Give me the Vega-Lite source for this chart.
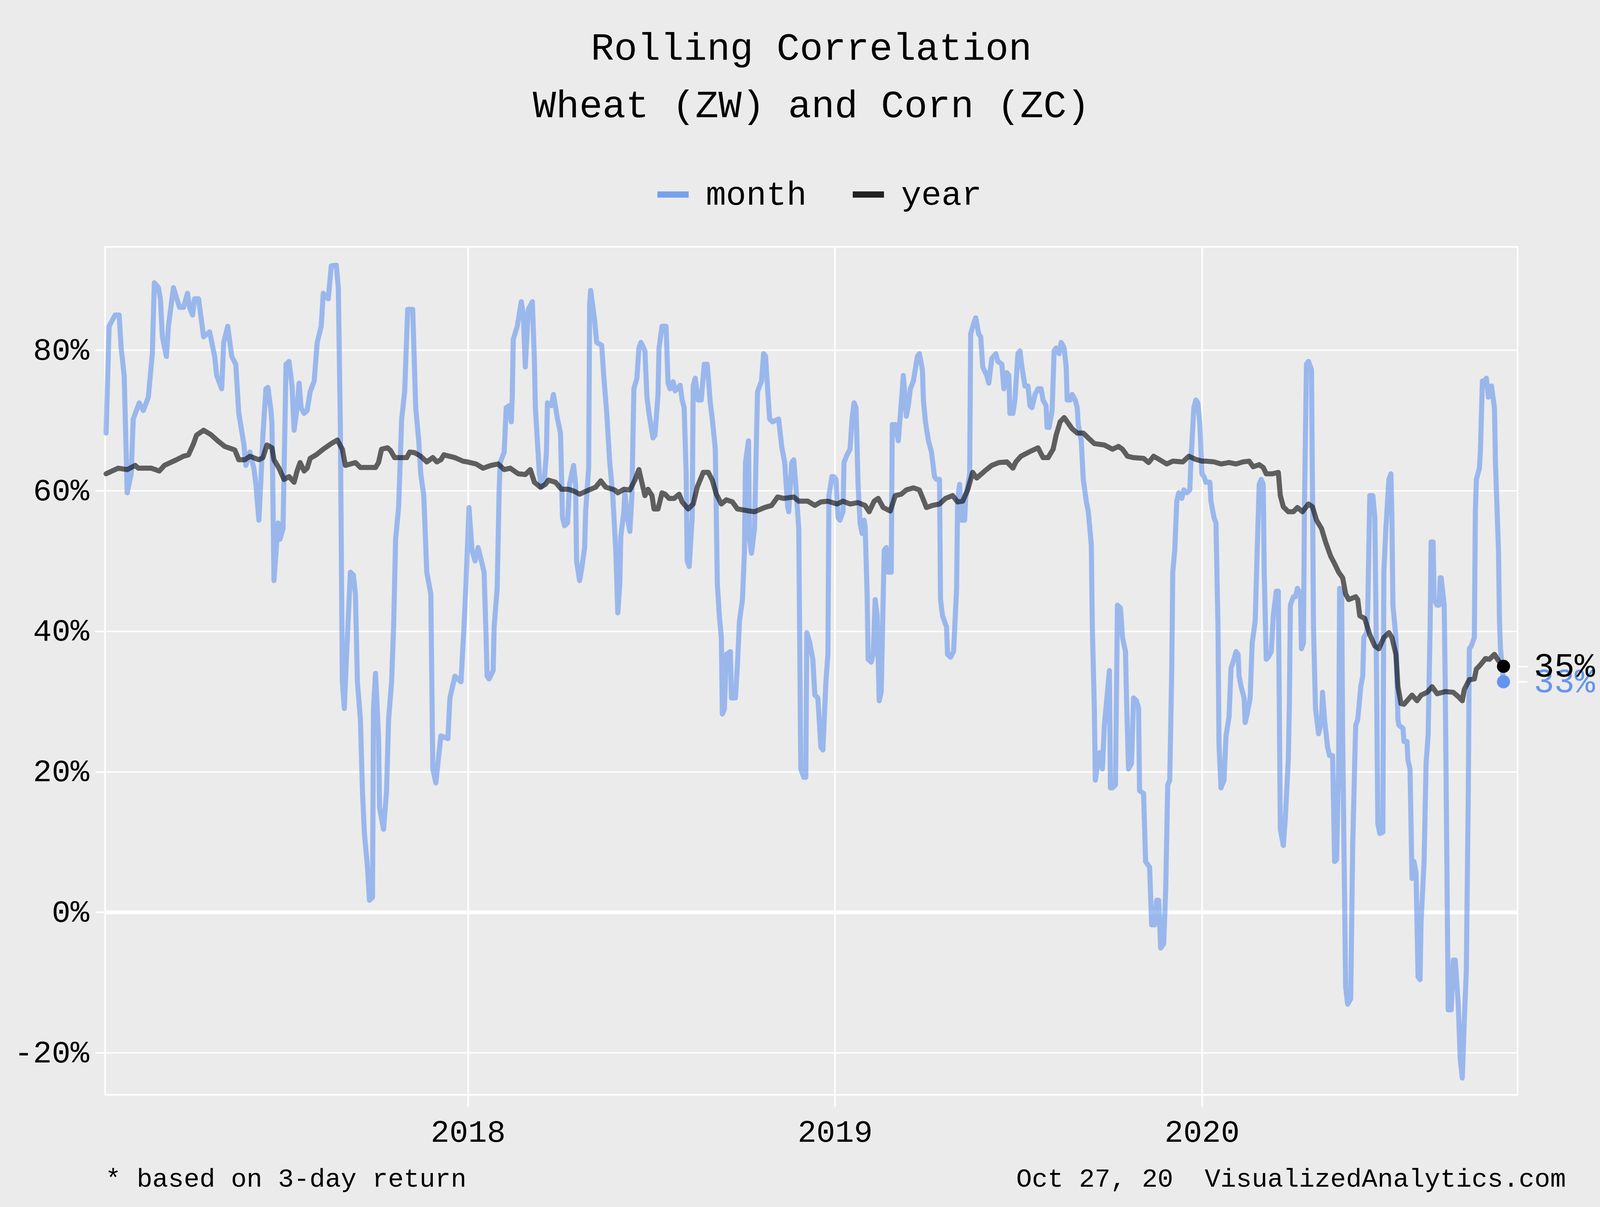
{
  "$schema": "https://vega.github.io/schema/vega-lite/v6.json",
  "width": 4096,
  "height": 3090,
  "autosize": {"type": "fit", "contains": "padding"},
  "padding": {"left": 35, "right": 13, "top": 74, "bottom": 40},
  "background": "#EBEBEB",
  "title": {
    "text": ["Rolling Correlation", "Wheat (ZW) and Corn (ZC)"],
    "font": "Liberation Mono",
    "fontSize": 99,
    "fontWeight": "normal",
    "color": "black",
    "anchor": "middle",
    "frame": "group",
    "baseline": "bottom",
    "lineHeight": 147,
    "offset": 212
  },
  "datasets": {
    "corr": [
      {"date": "2017-01-06", "series": "month", "value": 68.2},
      {"date": "2017-01-09", "series": "month", "value": 83.4},
      {"date": "2017-01-15", "series": "month", "value": 85.0},
      {"date": "2017-01-19", "series": "month", "value": 85.0},
      {"date": "2017-01-21", "series": "month", "value": 80.3},
      {"date": "2017-01-24", "series": "month", "value": 76.4},
      {"date": "2017-01-27", "series": "month", "value": 59.7},
      {"date": "2017-01-31", "series": "month", "value": 62.4},
      {"date": "2017-02-02", "series": "month", "value": 70.2},
      {"date": "2017-02-08", "series": "month", "value": 72.5},
      {"date": "2017-02-12", "series": "month", "value": 71.4},
      {"date": "2017-02-17", "series": "month", "value": 73.3},
      {"date": "2017-02-21", "series": "month", "value": 79.5},
      {"date": "2017-02-23", "series": "month", "value": 89.6},
      {"date": "2017-02-27", "series": "month", "value": 88.9},
      {"date": "2017-03-01", "series": "month", "value": 87.3},
      {"date": "2017-03-03", "series": "month", "value": 81.9},
      {"date": "2017-03-07", "series": "month", "value": 79.1},
      {"date": "2017-03-09", "series": "month", "value": 83.4},
      {"date": "2017-03-14", "series": "month", "value": 88.9},
      {"date": "2017-03-20", "series": "month", "value": 86.1},
      {"date": "2017-03-24", "series": "month", "value": 86.1},
      {"date": "2017-03-28", "series": "month", "value": 88.1},
      {"date": "2017-03-30", "series": "month", "value": 86.1},
      {"date": "2017-04-02", "series": "month", "value": 85.0},
      {"date": "2017-04-04", "series": "month", "value": 87.3},
      {"date": "2017-04-08", "series": "month", "value": 87.3},
      {"date": "2017-04-13", "series": "month", "value": 81.9},
      {"date": "2017-04-19", "series": "month", "value": 82.6},
      {"date": "2017-04-24", "series": "month", "value": 79.1},
      {"date": "2017-04-26", "series": "month", "value": 76.4},
      {"date": "2017-05-01", "series": "month", "value": 74.5},
      {"date": "2017-05-03", "series": "month", "value": 81.1},
      {"date": "2017-05-07", "series": "month", "value": 83.4},
      {"date": "2017-05-11", "series": "month", "value": 79.1},
      {"date": "2017-05-15", "series": "month", "value": 78.0},
      {"date": "2017-05-18", "series": "month", "value": 71.0},
      {"date": "2017-05-23", "series": "month", "value": 66.7},
      {"date": "2017-05-25", "series": "month", "value": 63.6},
      {"date": "2017-05-29", "series": "month", "value": 65.5},
      {"date": "2017-06-02", "series": "month", "value": 63.2},
      {"date": "2017-06-04", "series": "month", "value": 60.9},
      {"date": "2017-06-07", "series": "month", "value": 55.8},
      {"date": "2017-06-09", "series": "month", "value": 61.6},
      {"date": "2017-06-11", "series": "month", "value": 67.9},
      {"date": "2017-06-14", "series": "month", "value": 74.5},
      {"date": "2017-06-16", "series": "month", "value": 74.7},
      {"date": "2017-06-19", "series": "month", "value": 71.4},
      {"date": "2017-06-20", "series": "month", "value": 69.4},
      {"date": "2017-06-22", "series": "month", "value": 47.2},
      {"date": "2017-06-24", "series": "month", "value": 51.1},
      {"date": "2017-06-26", "series": "month", "value": 55.4},
      {"date": "2017-06-28", "series": "month", "value": 53.1},
      {"date": "2017-07-01", "series": "month", "value": 54.6},
      {"date": "2017-07-04", "series": "month", "value": 78.0},
      {"date": "2017-07-07", "series": "month", "value": 78.4},
      {"date": "2017-07-10", "series": "month", "value": 74.9},
      {"date": "2017-07-12", "series": "month", "value": 68.6},
      {"date": "2017-07-15", "series": "month", "value": 71.8},
      {"date": "2017-07-17", "series": "month", "value": 75.3},
      {"date": "2017-07-19", "series": "month", "value": 71.8},
      {"date": "2017-07-22", "series": "month", "value": 71.0},
      {"date": "2017-07-25", "series": "month", "value": 71.4},
      {"date": "2017-07-28", "series": "month", "value": 74.1},
      {"date": "2017-08-01", "series": "month", "value": 75.6},
      {"date": "2017-08-04", "series": "month", "value": 81.1},
      {"date": "2017-08-08", "series": "month", "value": 83.4},
      {"date": "2017-08-10", "series": "month", "value": 88.1},
      {"date": "2017-08-15", "series": "month", "value": 87.3},
      {"date": "2017-08-18", "series": "month", "value": 92.0},
      {"date": "2017-08-23", "series": "month", "value": 92.1},
      {"date": "2017-08-25", "series": "month", "value": 88.9},
      {"date": "2017-08-27", "series": "month", "value": 69.4},
      {"date": "2017-08-29", "series": "month", "value": 32.8},
      {"date": "2017-08-31", "series": "month", "value": 29.0},
      {"date": "2017-09-02", "series": "month", "value": 36.0},
      {"date": "2017-09-06", "series": "month", "value": 48.4},
      {"date": "2017-09-09", "series": "month", "value": 48.0},
      {"date": "2017-09-11", "series": "month", "value": 45.3},
      {"date": "2017-09-13", "series": "month", "value": 32.8},
      {"date": "2017-09-16", "series": "month", "value": 27.4},
      {"date": "2017-09-18", "series": "month", "value": 17.3},
      {"date": "2017-09-20", "series": "month", "value": 11.1},
      {"date": "2017-09-23", "series": "month", "value": 6.4},
      {"date": "2017-09-25", "series": "month", "value": 1.7},
      {"date": "2017-09-28", "series": "month", "value": 2.1},
      {"date": "2017-09-29", "series": "month", "value": 29.0},
      {"date": "2017-10-01", "series": "month", "value": 34.0},
      {"date": "2017-10-04", "series": "month", "value": 25.1},
      {"date": "2017-10-05", "series": "month", "value": 14.9},
      {"date": "2017-10-09", "series": "month", "value": 11.8},
      {"date": "2017-10-12", "series": "month", "value": 17.3},
      {"date": "2017-10-14", "series": "month", "value": 27.4},
      {"date": "2017-10-17", "series": "month", "value": 32.8},
      {"date": "2017-10-19", "series": "month", "value": 40.6},
      {"date": "2017-10-21", "series": "month", "value": 53.1},
      {"date": "2017-10-24", "series": "month", "value": 57.7},
      {"date": "2017-10-27", "series": "month", "value": 70.2},
      {"date": "2017-10-30", "series": "month", "value": 74.1},
      {"date": "2017-11-02", "series": "month", "value": 85.8},
      {"date": "2017-11-07", "series": "month", "value": 85.8},
      {"date": "2017-11-10", "series": "month", "value": 71.8},
      {"date": "2017-11-13", "series": "month", "value": 67.1},
      {"date": "2017-11-15", "series": "month", "value": 62.4},
      {"date": "2017-11-18", "series": "month", "value": 59.3},
      {"date": "2017-11-21", "series": "month", "value": 48.4},
      {"date": "2017-11-25", "series": "month", "value": 45.3},
      {"date": "2017-11-27", "series": "month", "value": 20.4},
      {"date": "2017-11-30", "series": "month", "value": 18.4},
      {"date": "2017-12-05", "series": "month", "value": 25.1},
      {"date": "2017-12-12", "series": "month", "value": 24.7},
      {"date": "2017-12-14", "series": "month", "value": 30.5},
      {"date": "2017-12-19", "series": "month", "value": 33.6},
      {"date": "2017-12-25", "series": "month", "value": 32.8},
      {"date": "2017-12-28", "series": "month", "value": 40.6},
      {"date": "2017-12-30", "series": "month", "value": 46.8},
      {"date": "2018-01-02", "series": "month", "value": 57.6},
      {"date": "2018-01-05", "series": "month", "value": 51.5},
      {"date": "2018-01-08", "series": "month", "value": 50.0},
      {"date": "2018-01-11", "series": "month", "value": 51.9},
      {"date": "2018-01-15", "series": "month", "value": 49.6},
      {"date": "2018-01-17", "series": "month", "value": 48.4},
      {"date": "2018-01-19", "series": "month", "value": 39.1},
      {"date": "2018-01-20", "series": "month", "value": 33.6},
      {"date": "2018-01-22", "series": "month", "value": 33.2},
      {"date": "2018-01-26", "series": "month", "value": 34.4},
      {"date": "2018-01-27", "series": "month", "value": 40.6},
      {"date": "2018-01-30", "series": "month", "value": 46.1},
      {"date": "2018-02-01", "series": "month", "value": 60.1},
      {"date": "2018-02-02", "series": "month", "value": 64.0},
      {"date": "2018-02-06", "series": "month", "value": 65.5},
      {"date": "2018-02-08", "series": "month", "value": 71.8},
      {"date": "2018-02-11", "series": "month", "value": 72.1},
      {"date": "2018-02-13", "series": "month", "value": 69.8},
      {"date": "2018-02-14", "series": "month", "value": 73.3},
      {"date": "2018-02-15", "series": "month", "value": 81.5},
      {"date": "2018-02-19", "series": "month", "value": 83.4},
      {"date": "2018-02-23", "series": "month", "value": 86.9},
      {"date": "2018-02-25", "series": "month", "value": 85.0},
      {"date": "2018-02-27", "series": "month", "value": 77.6},
      {"date": "2018-03-02", "series": "month", "value": 85.8},
      {"date": "2018-03-06", "series": "month", "value": 86.9},
      {"date": "2018-03-08", "series": "month", "value": 78.8},
      {"date": "2018-03-09", "series": "month", "value": 71.8},
      {"date": "2018-03-13", "series": "month", "value": 62.4},
      {"date": "2018-03-15", "series": "month", "value": 60.5},
      {"date": "2018-03-18", "series": "month", "value": 61.6},
      {"date": "2018-03-20", "series": "month", "value": 65.5},
      {"date": "2018-03-21", "series": "month", "value": 72.5},
      {"date": "2018-03-25", "series": "month", "value": 72.1},
      {"date": "2018-03-27", "series": "month", "value": 73.7},
      {"date": "2018-03-31", "series": "month", "value": 70.2},
      {"date": "2018-04-03", "series": "month", "value": 68.2},
      {"date": "2018-04-05", "series": "month", "value": 56.2},
      {"date": "2018-04-07", "series": "month", "value": 55.0},
      {"date": "2018-04-10", "series": "month", "value": 55.4},
      {"date": "2018-04-12", "series": "month", "value": 60.9},
      {"date": "2018-04-16", "series": "month", "value": 63.6},
      {"date": "2018-04-18", "series": "month", "value": 60.9},
      {"date": "2018-04-19", "series": "month", "value": 50.0},
      {"date": "2018-04-22", "series": "month", "value": 47.2},
      {"date": "2018-04-24", "series": "month", "value": 48.8},
      {"date": "2018-04-27", "series": "month", "value": 51.9},
      {"date": "2018-04-28", "series": "month", "value": 57.0},
      {"date": "2018-05-01", "series": "month", "value": 63.2},
      {"date": "2018-05-02", "series": "month", "value": 86.5},
      {"date": "2018-05-03", "series": "month", "value": 88.5},
      {"date": "2018-05-07", "series": "month", "value": 84.2},
      {"date": "2018-05-09", "series": "month", "value": 81.1},
      {"date": "2018-05-14", "series": "month", "value": 80.7},
      {"date": "2018-05-16", "series": "month", "value": 76.4},
      {"date": "2018-05-19", "series": "month", "value": 71.0},
      {"date": "2018-05-22", "series": "month", "value": 64.0},
      {"date": "2018-05-25", "series": "month", "value": 59.3},
      {"date": "2018-05-28", "series": "month", "value": 51.5},
      {"date": "2018-05-30", "series": "month", "value": 42.6},
      {"date": "2018-06-01", "series": "month", "value": 46.8},
      {"date": "2018-06-02", "series": "month", "value": 53.5},
      {"date": "2018-06-05", "series": "month", "value": 57.0},
      {"date": "2018-06-06", "series": "month", "value": 59.7},
      {"date": "2018-06-09", "series": "month", "value": 55.8},
      {"date": "2018-06-11", "series": "month", "value": 54.2},
      {"date": "2018-06-13", "series": "month", "value": 59.3},
      {"date": "2018-06-15", "series": "month", "value": 74.5},
      {"date": "2018-06-18", "series": "month", "value": 76.0},
      {"date": "2018-06-20", "series": "month", "value": 80.3},
      {"date": "2018-06-22", "series": "month", "value": 81.1},
      {"date": "2018-06-26", "series": "month", "value": 79.9},
      {"date": "2018-06-28", "series": "month", "value": 73.3},
      {"date": "2018-06-30", "series": "month", "value": 71.0},
      {"date": "2018-07-04", "series": "month", "value": 67.5},
      {"date": "2018-07-06", "series": "month", "value": 67.9},
      {"date": "2018-07-09", "series": "month", "value": 73.7},
      {"date": "2018-07-10", "series": "month", "value": 80.3},
      {"date": "2018-07-13", "series": "month", "value": 83.4},
      {"date": "2018-07-17", "series": "month", "value": 83.4},
      {"date": "2018-07-19", "series": "month", "value": 75.3},
      {"date": "2018-07-21", "series": "month", "value": 74.5},
      {"date": "2018-07-24", "series": "month", "value": 75.5},
      {"date": "2018-07-26", "series": "month", "value": 74.2},
      {"date": "2018-07-31", "series": "month", "value": 75.0},
      {"date": "2018-08-02", "series": "month", "value": 72.9},
      {"date": "2018-08-04", "series": "month", "value": 71.8},
      {"date": "2018-08-06", "series": "month", "value": 62.4},
      {"date": "2018-08-07", "series": "month", "value": 50.0},
      {"date": "2018-08-09", "series": "month", "value": 49.2},
      {"date": "2018-08-12", "series": "month", "value": 56.2},
      {"date": "2018-08-13", "series": "month", "value": 74.9},
      {"date": "2018-08-15", "series": "month", "value": 76.0},
      {"date": "2018-08-18", "series": "month", "value": 72.9},
      {"date": "2018-08-21", "series": "month", "value": 72.9},
      {"date": "2018-08-24", "series": "month", "value": 78.0},
      {"date": "2018-08-27", "series": "month", "value": 78.0},
      {"date": "2018-08-30", "series": "month", "value": 72.5},
      {"date": "2018-09-01", "series": "month", "value": 70.2},
      {"date": "2018-09-04", "series": "month", "value": 65.9},
      {"date": "2018-09-06", "series": "month", "value": 46.8},
      {"date": "2018-09-08", "series": "month", "value": 42.2},
      {"date": "2018-09-10", "series": "month", "value": 39.1},
      {"date": "2018-09-11", "series": "month", "value": 28.2},
      {"date": "2018-09-13", "series": "month", "value": 28.9},
      {"date": "2018-09-15", "series": "month", "value": 36.7},
      {"date": "2018-09-19", "series": "month", "value": 37.1},
      {"date": "2018-09-20", "series": "month", "value": 30.5},
      {"date": "2018-09-24", "series": "month", "value": 30.5},
      {"date": "2018-09-26", "series": "month", "value": 35.2},
      {"date": "2018-09-28", "series": "month", "value": 41.4},
      {"date": "2018-10-01", "series": "month", "value": 44.5},
      {"date": "2018-10-03", "series": "month", "value": 51.5},
      {"date": "2018-10-04", "series": "month", "value": 64.0},
      {"date": "2018-10-07", "series": "month", "value": 67.1},
      {"date": "2018-10-08", "series": "month", "value": 53.1},
      {"date": "2018-10-10", "series": "month", "value": 51.1},
      {"date": "2018-10-13", "series": "month", "value": 54.6},
      {"date": "2018-10-15", "series": "month", "value": 67.9},
      {"date": "2018-10-16", "series": "month", "value": 74.1},
      {"date": "2018-10-20", "series": "month", "value": 75.6},
      {"date": "2018-10-22", "series": "month", "value": 79.5},
      {"date": "2018-10-24", "series": "month", "value": 79.1},
      {"date": "2018-10-26", "series": "month", "value": 74.5},
      {"date": "2018-10-28", "series": "month", "value": 70.2},
      {"date": "2018-10-31", "series": "month", "value": 69.8},
      {"date": "2018-11-06", "series": "month", "value": 70.2},
      {"date": "2018-11-09", "series": "month", "value": 66.3},
      {"date": "2018-11-12", "series": "month", "value": 64.0},
      {"date": "2018-11-15", "series": "month", "value": 57.7},
      {"date": "2018-11-16", "series": "month", "value": 57.0},
      {"date": "2018-11-19", "series": "month", "value": 64.0},
      {"date": "2018-11-21", "series": "month", "value": 64.4},
      {"date": "2018-11-23", "series": "month", "value": 60.9},
      {"date": "2018-11-26", "series": "month", "value": 54.6},
      {"date": "2018-11-28", "series": "month", "value": 20.4},
      {"date": "2018-12-01", "series": "month", "value": 19.2},
      {"date": "2018-12-03", "series": "month", "value": 19.2},
      {"date": "2018-12-04", "series": "month", "value": 39.8},
      {"date": "2018-12-07", "series": "month", "value": 38.3},
      {"date": "2018-12-10", "series": "month", "value": 36.0},
      {"date": "2018-12-12", "series": "month", "value": 30.9},
      {"date": "2018-12-15", "series": "month", "value": 30.5},
      {"date": "2018-12-18", "series": "month", "value": 23.5},
      {"date": "2018-12-20", "series": "month", "value": 23.1},
      {"date": "2018-12-23", "series": "month", "value": 32.8},
      {"date": "2018-12-25", "series": "month", "value": 36.7},
      {"date": "2018-12-26", "series": "month", "value": 59.3},
      {"date": "2018-12-29", "series": "month", "value": 62.0},
      {"date": "2018-12-31", "series": "month", "value": 62.0},
      {"date": "2019-01-02", "series": "month", "value": 61.6},
      {"date": "2019-01-04", "series": "month", "value": 56.2},
      {"date": "2019-01-06", "series": "month", "value": 55.8},
      {"date": "2019-01-09", "series": "month", "value": 57.0},
      {"date": "2019-01-10", "series": "month", "value": 64.0},
      {"date": "2019-01-13", "series": "month", "value": 65.1},
      {"date": "2019-01-16", "series": "month", "value": 65.9},
      {"date": "2019-01-18", "series": "month", "value": 70.2},
      {"date": "2019-01-20", "series": "month", "value": 72.5},
      {"date": "2019-01-22", "series": "month", "value": 71.8},
      {"date": "2019-01-24", "series": "month", "value": 60.9},
      {"date": "2019-01-26", "series": "month", "value": 55.4},
      {"date": "2019-01-28", "series": "month", "value": 53.9},
      {"date": "2019-01-30", "series": "month", "value": 55.8},
      {"date": "2019-01-31", "series": "month", "value": 55.0},
      {"date": "2019-02-02", "series": "month", "value": 45.3},
      {"date": "2019-02-03", "series": "month", "value": 36.0},
      {"date": "2019-02-06", "series": "month", "value": 35.6},
      {"date": "2019-02-08", "series": "month", "value": 36.7},
      {"date": "2019-02-10", "series": "month", "value": 44.5},
      {"date": "2019-02-12", "series": "month", "value": 42.2},
      {"date": "2019-02-14", "series": "month", "value": 30.1},
      {"date": "2019-02-16", "series": "month", "value": 31.3},
      {"date": "2019-02-19", "series": "month", "value": 51.5},
      {"date": "2019-02-21", "series": "month", "value": 51.9},
      {"date": "2019-02-23", "series": "month", "value": 48.4},
      {"date": "2019-02-26", "series": "month", "value": 48.4},
      {"date": "2019-02-27", "series": "month", "value": 69.4},
      {"date": "2019-03-02", "series": "month", "value": 69.4},
      {"date": "2019-03-05", "series": "month", "value": 67.1},
      {"date": "2019-03-08", "series": "month", "value": 72.5},
      {"date": "2019-03-10", "series": "month", "value": 76.4},
      {"date": "2019-03-13", "series": "month", "value": 70.6},
      {"date": "2019-03-15", "series": "month", "value": 72.1},
      {"date": "2019-03-17", "series": "month", "value": 74.5},
      {"date": "2019-03-20", "series": "month", "value": 75.6},
      {"date": "2019-03-24", "series": "month", "value": 79.1},
      {"date": "2019-03-26", "series": "month", "value": 79.5},
      {"date": "2019-03-29", "series": "month", "value": 77.2},
      {"date": "2019-03-30", "series": "month", "value": 72.9},
      {"date": "2019-04-01", "series": "month", "value": 69.8},
      {"date": "2019-04-04", "series": "month", "value": 67.1},
      {"date": "2019-04-07", "series": "month", "value": 65.5},
      {"date": "2019-04-10", "series": "month", "value": 62.0},
      {"date": "2019-04-12", "series": "month", "value": 61.6},
      {"date": "2019-04-15", "series": "month", "value": 61.6},
      {"date": "2019-04-16", "series": "month", "value": 44.5},
      {"date": "2019-04-18", "series": "month", "value": 42.2},
      {"date": "2019-04-22", "series": "month", "value": 40.6},
      {"date": "2019-04-23", "series": "month", "value": 36.7},
      {"date": "2019-04-26", "series": "month", "value": 36.3},
      {"date": "2019-04-29", "series": "month", "value": 37.1},
      {"date": "2019-05-02", "series": "month", "value": 46.1},
      {"date": "2019-05-03", "series": "month", "value": 58.5},
      {"date": "2019-05-05", "series": "month", "value": 60.9},
      {"date": "2019-05-07", "series": "month", "value": 55.8},
      {"date": "2019-05-10", "series": "month", "value": 55.8},
      {"date": "2019-05-11", "series": "month", "value": 58.9},
      {"date": "2019-05-15", "series": "month", "value": 62.4},
      {"date": "2019-05-16", "series": "month", "value": 82.3},
      {"date": "2019-05-19", "series": "month", "value": 83.8},
      {"date": "2019-05-21", "series": "month", "value": 84.6},
      {"date": "2019-05-24", "series": "month", "value": 82.3},
      {"date": "2019-05-26", "series": "month", "value": 81.9},
      {"date": "2019-05-28", "series": "month", "value": 77.6},
      {"date": "2019-06-01", "series": "month", "value": 76.4},
      {"date": "2019-06-03", "series": "month", "value": 75.3},
      {"date": "2019-06-06", "series": "month", "value": 78.8},
      {"date": "2019-06-10", "series": "month", "value": 79.5},
      {"date": "2019-06-12", "series": "month", "value": 78.4},
      {"date": "2019-06-16", "series": "month", "value": 78.0},
      {"date": "2019-06-18", "series": "month", "value": 74.5},
      {"date": "2019-06-21", "series": "month", "value": 76.8},
      {"date": "2019-06-23", "series": "month", "value": 76.4},
      {"date": "2019-06-24", "series": "month", "value": 71.0},
      {"date": "2019-06-27", "series": "month", "value": 71.0},
      {"date": "2019-06-29", "series": "month", "value": 72.9},
      {"date": "2019-07-02", "series": "month", "value": 79.5},
      {"date": "2019-07-04", "series": "month", "value": 79.9},
      {"date": "2019-07-06", "series": "month", "value": 77.6},
      {"date": "2019-07-09", "series": "month", "value": 74.9},
      {"date": "2019-07-12", "series": "month", "value": 74.9},
      {"date": "2019-07-14", "series": "month", "value": 72.1},
      {"date": "2019-07-16", "series": "month", "value": 71.8},
      {"date": "2019-07-19", "series": "month", "value": 73.7},
      {"date": "2019-07-22", "series": "month", "value": 74.5},
      {"date": "2019-07-25", "series": "month", "value": 74.5},
      {"date": "2019-07-27", "series": "month", "value": 72.9},
      {"date": "2019-07-30", "series": "month", "value": 72.1},
      {"date": "2019-07-31", "series": "month", "value": 69.0},
      {"date": "2019-08-02", "series": "month", "value": 69.0},
      {"date": "2019-08-05", "series": "month", "value": 71.4},
      {"date": "2019-08-06", "series": "month", "value": 75.6},
      {"date": "2019-08-07", "series": "month", "value": 79.9},
      {"date": "2019-08-09", "series": "month", "value": 80.3},
      {"date": "2019-08-12", "series": "month", "value": 79.5},
      {"date": "2019-08-14", "series": "month", "value": 81.1},
      {"date": "2019-08-17", "series": "month", "value": 80.3},
      {"date": "2019-08-19", "series": "month", "value": 77.6},
      {"date": "2019-08-20", "series": "month", "value": 72.9},
      {"date": "2019-08-23", "series": "month", "value": 72.9},
      {"date": "2019-08-25", "series": "month", "value": 73.7},
      {"date": "2019-08-28", "series": "month", "value": 72.9},
      {"date": "2019-08-30", "series": "month", "value": 71.8},
      {"date": "2019-08-31", "series": "month", "value": 69.4},
      {"date": "2019-09-03", "series": "month", "value": 67.1},
      {"date": "2019-09-05", "series": "month", "value": 61.6},
      {"date": "2019-09-08", "series": "month", "value": 58.5},
      {"date": "2019-09-10", "series": "month", "value": 57.0},
      {"date": "2019-09-13", "series": "month", "value": 52.3},
      {"date": "2019-09-14", "series": "month", "value": 40.6},
      {"date": "2019-09-16", "series": "month", "value": 29.0},
      {"date": "2019-09-17", "series": "month", "value": 18.8},
      {"date": "2019-09-19", "series": "month", "value": 20.8},
      {"date": "2019-09-21", "series": "month", "value": 22.7},
      {"date": "2019-09-24", "series": "month", "value": 20.4},
      {"date": "2019-09-26", "series": "month", "value": 26.6},
      {"date": "2019-09-28", "series": "month", "value": 29.7},
      {"date": "2019-10-01", "series": "month", "value": 34.4},
      {"date": "2019-10-02", "series": "month", "value": 17.7},
      {"date": "2019-10-04", "series": "month", "value": 17.7},
      {"date": "2019-10-07", "series": "month", "value": 18.1},
      {"date": "2019-10-09", "series": "month", "value": 43.7},
      {"date": "2019-10-12", "series": "month", "value": 43.3},
      {"date": "2019-10-14", "series": "month", "value": 39.1},
      {"date": "2019-10-17", "series": "month", "value": 37.1},
      {"date": "2019-10-18", "series": "month", "value": 30.5},
      {"date": "2019-10-20", "series": "month", "value": 20.4},
      {"date": "2019-10-23", "series": "month", "value": 21.2},
      {"date": "2019-10-25", "series": "month", "value": 30.5},
      {"date": "2019-10-28", "series": "month", "value": 30.1},
      {"date": "2019-10-30", "series": "month", "value": 29.0},
      {"date": "2019-10-31", "series": "month", "value": 17.3},
      {"date": "2019-11-04", "series": "month", "value": 16.9},
      {"date": "2019-11-06", "series": "month", "value": 7.2},
      {"date": "2019-11-10", "series": "month", "value": 6.4},
      {"date": "2019-11-12", "series": "month", "value": -1.8},
      {"date": "2019-11-15", "series": "month", "value": -1.8},
      {"date": "2019-11-17", "series": "month", "value": 1.7},
      {"date": "2019-11-19", "series": "month", "value": 1.7},
      {"date": "2019-11-21", "series": "month", "value": -5.1},
      {"date": "2019-11-24", "series": "month", "value": -4.5},
      {"date": "2019-11-26", "series": "month", "value": 3.3},
      {"date": "2019-11-28", "series": "month", "value": 18.1},
      {"date": "2019-11-30", "series": "month", "value": 18.8},
      {"date": "2019-12-02", "series": "month", "value": 34.4},
      {"date": "2019-12-03", "series": "month", "value": 48.4},
      {"date": "2019-12-05", "series": "month", "value": 51.5},
      {"date": "2019-12-07", "series": "month", "value": 58.5},
      {"date": "2019-12-09", "series": "month", "value": 59.7},
      {"date": "2019-12-12", "series": "month", "value": 58.9},
      {"date": "2019-12-14", "series": "month", "value": 60.1},
      {"date": "2019-12-17", "series": "month", "value": 59.7},
      {"date": "2019-12-20", "series": "month", "value": 60.1},
      {"date": "2019-12-21", "series": "month", "value": 64.0},
      {"date": "2019-12-24", "series": "month", "value": 71.8},
      {"date": "2019-12-26", "series": "month", "value": 72.9},
      {"date": "2019-12-28", "series": "month", "value": 72.5},
      {"date": "2019-12-30", "series": "month", "value": 69.4},
      {"date": "2020-01-01", "series": "month", "value": 62.4},
      {"date": "2020-01-03", "series": "month", "value": 62.0},
      {"date": "2020-01-05", "series": "month", "value": 61.2},
      {"date": "2020-01-09", "series": "month", "value": 61.2},
      {"date": "2020-01-10", "series": "month", "value": 58.5},
      {"date": "2020-01-13", "series": "month", "value": 56.2},
      {"date": "2020-01-15", "series": "month", "value": 55.4},
      {"date": "2020-01-17", "series": "month", "value": 40.6},
      {"date": "2020-01-18", "series": "month", "value": 23.9},
      {"date": "2020-01-20", "series": "month", "value": 17.7},
      {"date": "2020-01-23", "series": "month", "value": 18.8},
      {"date": "2020-01-25", "series": "month", "value": 25.1},
      {"date": "2020-01-28", "series": "month", "value": 27.8},
      {"date": "2020-01-30", "series": "month", "value": 34.8},
      {"date": "2020-02-01", "series": "month", "value": 35.6},
      {"date": "2020-02-04", "series": "month", "value": 37.1},
      {"date": "2020-02-06", "series": "month", "value": 36.7},
      {"date": "2020-02-07", "series": "month", "value": 33.6},
      {"date": "2020-02-09", "series": "month", "value": 32.1},
      {"date": "2020-02-12", "series": "month", "value": 30.5},
      {"date": "2020-02-13", "series": "month", "value": 27.0},
      {"date": "2020-02-15", "series": "month", "value": 28.2},
      {"date": "2020-02-18", "series": "month", "value": 30.5},
      {"date": "2020-02-20", "series": "month", "value": 38.3},
      {"date": "2020-02-23", "series": "month", "value": 41.4},
      {"date": "2020-02-25", "series": "month", "value": 51.5},
      {"date": "2020-02-27", "series": "month", "value": 60.9},
      {"date": "2020-02-29", "series": "month", "value": 61.6},
      {"date": "2020-03-02", "series": "month", "value": 60.9},
      {"date": "2020-03-03", "series": "month", "value": 48.4},
      {"date": "2020-03-05", "series": "month", "value": 36.0},
      {"date": "2020-03-07", "series": "month", "value": 36.3},
      {"date": "2020-03-10", "series": "month", "value": 37.1},
      {"date": "2020-03-12", "series": "month", "value": 42.2},
      {"date": "2020-03-15", "series": "month", "value": 45.7},
      {"date": "2020-03-17", "series": "month", "value": 45.7},
      {"date": "2020-03-18", "series": "month", "value": 29.0},
      {"date": "2020-03-19", "series": "month", "value": 11.8},
      {"date": "2020-03-22", "series": "month", "value": 9.5},
      {"date": "2020-03-24", "series": "month", "value": 13.4},
      {"date": "2020-03-27", "series": "month", "value": 21.9},
      {"date": "2020-03-28", "series": "month", "value": 29.7},
      {"date": "2020-03-29", "series": "month", "value": 43.7},
      {"date": "2020-04-01", "series": "month", "value": 44.9},
      {"date": "2020-04-03", "series": "month", "value": 44.9},
      {"date": "2020-04-05", "series": "month", "value": 46.1},
      {"date": "2020-04-08", "series": "month", "value": 45.3},
      {"date": "2020-04-09", "series": "month", "value": 37.5},
      {"date": "2020-04-11", "series": "month", "value": 38.3},
      {"date": "2020-04-12", "series": "month", "value": 57.7},
      {"date": "2020-04-14", "series": "month", "value": 78.0},
      {"date": "2020-04-16", "series": "month", "value": 78.4},
      {"date": "2020-04-19", "series": "month", "value": 77.2},
      {"date": "2020-04-20", "series": "month", "value": 60.1},
      {"date": "2020-04-21", "series": "month", "value": 40.6},
      {"date": "2020-04-23", "series": "month", "value": 29.0},
      {"date": "2020-04-26", "series": "month", "value": 25.4},
      {"date": "2020-04-29", "series": "month", "value": 27.4},
      {"date": "2020-04-30", "series": "month", "value": 31.3},
      {"date": "2020-05-02", "series": "month", "value": 27.4},
      {"date": "2020-05-05", "series": "month", "value": 23.5},
      {"date": "2020-05-07", "series": "month", "value": 22.3},
      {"date": "2020-05-10", "series": "month", "value": 22.3},
      {"date": "2020-05-12", "series": "month", "value": 7.2},
      {"date": "2020-05-14", "series": "month", "value": 7.5},
      {"date": "2020-05-16", "series": "month", "value": 21.2},
      {"date": "2020-05-17", "series": "month", "value": 46.1},
      {"date": "2020-05-19", "series": "month", "value": 45.3},
      {"date": "2020-05-20", "series": "month", "value": 25.1},
      {"date": "2020-05-23", "series": "month", "value": -10.7},
      {"date": "2020-05-25", "series": "month", "value": -13.1},
      {"date": "2020-05-28", "series": "month", "value": -12.3},
      {"date": "2020-05-30", "series": "month", "value": 9.5},
      {"date": "2020-06-01", "series": "month", "value": 21.2},
      {"date": "2020-06-02", "series": "month", "value": 26.6},
      {"date": "2020-06-04", "series": "month", "value": 27.4},
      {"date": "2020-06-07", "series": "month", "value": 32.1},
      {"date": "2020-06-09", "series": "month", "value": 33.6},
      {"date": "2020-06-10", "series": "month", "value": 39.1},
      {"date": "2020-06-13", "series": "month", "value": 39.8},
      {"date": "2020-06-14", "series": "month", "value": 43.3},
      {"date": "2020-06-16", "series": "month", "value": 59.3},
      {"date": "2020-06-19", "series": "month", "value": 59.3},
      {"date": "2020-06-21", "series": "month", "value": 56.2},
      {"date": "2020-06-22", "series": "month", "value": 44.5},
      {"date": "2020-06-24", "series": "month", "value": 12.6},
      {"date": "2020-06-26", "series": "month", "value": 11.2},
      {"date": "2020-06-29", "series": "month", "value": 11.4},
      {"date": "2020-06-30", "series": "month", "value": 48.4},
      {"date": "2020-07-02", "series": "month", "value": 54.6},
      {"date": "2020-07-05", "series": "month", "value": 61.6},
      {"date": "2020-07-07", "series": "month", "value": 62.4},
      {"date": "2020-07-08", "series": "month", "value": 56.2},
      {"date": "2020-07-09", "series": "month", "value": 43.7},
      {"date": "2020-07-12", "series": "month", "value": 39.1},
      {"date": "2020-07-14", "series": "month", "value": 27.4},
      {"date": "2020-07-15", "series": "month", "value": 26.6},
      {"date": "2020-07-19", "series": "month", "value": 26.2},
      {"date": "2020-07-20", "series": "month", "value": 24.3},
      {"date": "2020-07-23", "series": "month", "value": 24.3},
      {"date": "2020-07-24", "series": "month", "value": 21.6},
      {"date": "2020-07-26", "series": "month", "value": 20.4},
      {"date": "2020-07-28", "series": "month", "value": 4.8},
      {"date": "2020-07-30", "series": "month", "value": 7.2},
      {"date": "2020-08-01", "series": "month", "value": 5.6},
      {"date": "2020-08-03", "series": "month", "value": -9.2},
      {"date": "2020-08-05", "series": "month", "value": -9.6},
      {"date": "2020-08-06", "series": "month", "value": -1.4},
      {"date": "2020-08-09", "series": "month", "value": 7.2},
      {"date": "2020-08-11", "series": "month", "value": 21.2},
      {"date": "2020-08-13", "series": "month", "value": 25.1},
      {"date": "2020-08-15", "series": "month", "value": 40.6},
      {"date": "2020-08-16", "series": "month", "value": 52.7},
      {"date": "2020-08-18", "series": "month", "value": 52.7},
      {"date": "2020-08-19", "series": "month", "value": 44.5},
      {"date": "2020-08-22", "series": "month", "value": 43.7},
      {"date": "2020-08-24", "series": "month", "value": 43.7},
      {"date": "2020-08-25", "series": "month", "value": 47.6},
      {"date": "2020-08-26", "series": "month", "value": 47.6},
      {"date": "2020-08-29", "series": "month", "value": 43.7},
      {"date": "2020-08-30", "series": "month", "value": 32.8},
      {"date": "2020-09-02", "series": "month", "value": -13.9},
      {"date": "2020-09-05", "series": "month", "value": -13.9},
      {"date": "2020-09-07", "series": "month", "value": -6.8},
      {"date": "2020-09-09", "series": "month", "value": -6.8},
      {"date": "2020-09-12", "series": "month", "value": -13.1},
      {"date": "2020-09-14", "series": "month", "value": -20.9},
      {"date": "2020-09-16", "series": "month", "value": -23.6},
      {"date": "2020-09-18", "series": "month", "value": -15.4},
      {"date": "2020-09-20", "series": "month", "value": -8.4},
      {"date": "2020-09-22", "series": "month", "value": 17.3},
      {"date": "2020-09-23", "series": "month", "value": 37.5},
      {"date": "2020-09-25", "series": "month", "value": 37.9},
      {"date": "2020-09-28", "series": "month", "value": 39.1},
      {"date": "2020-09-29", "series": "month", "value": 57.0},
      {"date": "2020-09-30", "series": "month", "value": 61.6},
      {"date": "2020-10-03", "series": "month", "value": 63.2},
      {"date": "2020-10-04", "series": "month", "value": 65.5},
      {"date": "2020-10-06", "series": "month", "value": 75.6},
      {"date": "2020-10-08", "series": "month", "value": 75.6},
      {"date": "2020-10-10", "series": "month", "value": 76.0},
      {"date": "2020-10-12", "series": "month", "value": 73.3},
      {"date": "2020-10-15", "series": "month", "value": 74.9},
      {"date": "2020-10-18", "series": "month", "value": 71.8},
      {"date": "2020-10-19", "series": "month", "value": 64.0},
      {"date": "2020-10-22", "series": "month", "value": 51.5},
      {"date": "2020-10-23", "series": "month", "value": 41.4},
      {"date": "2020-10-24", "series": "month", "value": 37.5},
      {"date": "2020-10-27", "series": "month", "value": 32.8},
      {"date": "2017-01-06", "series": "year", "value": 62.4},
      {"date": "2017-01-18", "series": "year", "value": 63.2},
      {"date": "2017-01-27", "series": "year", "value": 63.0},
      {"date": "2017-02-04", "series": "year", "value": 63.6},
      {"date": "2017-02-07", "series": "year", "value": 63.2},
      {"date": "2017-02-20", "series": "year", "value": 63.2},
      {"date": "2017-02-28", "series": "year", "value": 62.8},
      {"date": "2017-03-05", "series": "year", "value": 63.6},
      {"date": "2017-03-17", "series": "year", "value": 64.4},
      {"date": "2017-03-24", "series": "year", "value": 64.9},
      {"date": "2017-03-29", "series": "year", "value": 65.1},
      {"date": "2017-04-03", "series": "year", "value": 66.7},
      {"date": "2017-04-06", "series": "year", "value": 67.9},
      {"date": "2017-04-13", "series": "year", "value": 68.6},
      {"date": "2017-04-20", "series": "year", "value": 68.0},
      {"date": "2017-04-27", "series": "year", "value": 67.1},
      {"date": "2017-05-04", "series": "year", "value": 66.3},
      {"date": "2017-05-14", "series": "year", "value": 65.8},
      {"date": "2017-05-18", "series": "year", "value": 64.4},
      {"date": "2017-05-24", "series": "year", "value": 64.4},
      {"date": "2017-05-29", "series": "year", "value": 64.9},
      {"date": "2017-06-07", "series": "year", "value": 64.4},
      {"date": "2017-06-11", "series": "year", "value": 64.7},
      {"date": "2017-06-15", "series": "year", "value": 66.5},
      {"date": "2017-06-20", "series": "year", "value": 66.1},
      {"date": "2017-06-22", "series": "year", "value": 64.4},
      {"date": "2017-06-27", "series": "year", "value": 63.2},
      {"date": "2017-07-02", "series": "year", "value": 61.6},
      {"date": "2017-07-07", "series": "year", "value": 62.0},
      {"date": "2017-07-12", "series": "year", "value": 61.2},
      {"date": "2017-07-15", "series": "year", "value": 62.8},
      {"date": "2017-07-18", "series": "year", "value": 64.0},
      {"date": "2017-07-22", "series": "year", "value": 62.8},
      {"date": "2017-07-25", "series": "year", "value": 63.2},
      {"date": "2017-07-28", "series": "year", "value": 64.6},
      {"date": "2017-08-03", "series": "year", "value": 65.1},
      {"date": "2017-08-10", "series": "year", "value": 65.9},
      {"date": "2017-08-18", "series": "year", "value": 66.7},
      {"date": "2017-08-24", "series": "year", "value": 67.2},
      {"date": "2017-08-29", "series": "year", "value": 65.9},
      {"date": "2017-09-01", "series": "year", "value": 63.6},
      {"date": "2017-09-11", "series": "year", "value": 64.0},
      {"date": "2017-09-16", "series": "year", "value": 63.3},
      {"date": "2017-10-01", "series": "year", "value": 63.3},
      {"date": "2017-10-04", "series": "year", "value": 64.0},
      {"date": "2017-10-07", "series": "year", "value": 65.9},
      {"date": "2017-10-13", "series": "year", "value": 66.1},
      {"date": "2017-10-16", "series": "year", "value": 65.7},
      {"date": "2017-10-20", "series": "year", "value": 64.7},
      {"date": "2017-11-01", "series": "year", "value": 64.7},
      {"date": "2017-11-04", "series": "year", "value": 65.5},
      {"date": "2017-11-09", "series": "year", "value": 65.4},
      {"date": "2017-11-15", "series": "year", "value": 64.9},
      {"date": "2017-11-21", "series": "year", "value": 64.1},
      {"date": "2017-11-27", "series": "year", "value": 64.7},
      {"date": "2017-12-01", "series": "year", "value": 64.1},
      {"date": "2017-12-05", "series": "year", "value": 64.4},
      {"date": "2017-12-08", "series": "year", "value": 65.1},
      {"date": "2017-12-19", "series": "year", "value": 64.7},
      {"date": "2017-12-27", "series": "year", "value": 64.2},
      {"date": "2017-12-31", "series": "year", "value": 64.1},
      {"date": "2018-01-09", "series": "year", "value": 63.8},
      {"date": "2018-01-16", "series": "year", "value": 63.2},
      {"date": "2018-01-24", "series": "year", "value": 63.6},
      {"date": "2018-01-31", "series": "year", "value": 63.8},
      {"date": "2018-02-06", "series": "year", "value": 63.0},
      {"date": "2018-02-12", "series": "year", "value": 63.2},
      {"date": "2018-02-20", "series": "year", "value": 62.4},
      {"date": "2018-02-27", "series": "year", "value": 62.3},
      {"date": "2018-03-04", "series": "year", "value": 63.0},
      {"date": "2018-03-08", "series": "year", "value": 61.2},
      {"date": "2018-03-14", "series": "year", "value": 60.5},
      {"date": "2018-03-19", "series": "year", "value": 60.9},
      {"date": "2018-03-22", "series": "year", "value": 61.5},
      {"date": "2018-03-29", "series": "year", "value": 61.2},
      {"date": "2018-04-04", "series": "year", "value": 60.2},
      {"date": "2018-04-11", "series": "year", "value": 60.2},
      {"date": "2018-04-17", "series": "year", "value": 59.9},
      {"date": "2018-04-22", "series": "year", "value": 59.5},
      {"date": "2018-04-28", "series": "year", "value": 59.9},
      {"date": "2018-05-08", "series": "year", "value": 60.5},
      {"date": "2018-05-13", "series": "year", "value": 61.4},
      {"date": "2018-05-18", "series": "year", "value": 60.5},
      {"date": "2018-05-27", "series": "year", "value": 60.1},
      {"date": "2018-05-30", "series": "year", "value": 59.7},
      {"date": "2018-06-05", "series": "year", "value": 60.2},
      {"date": "2018-06-11", "series": "year", "value": 60.1},
      {"date": "2018-06-16", "series": "year", "value": 61.5},
      {"date": "2018-06-20", "series": "year", "value": 63.0},
      {"date": "2018-06-24", "series": "year", "value": 60.5},
      {"date": "2018-06-26", "series": "year", "value": 59.3},
      {"date": "2018-06-29", "series": "year", "value": 60.2},
      {"date": "2018-07-03", "series": "year", "value": 59.3},
      {"date": "2018-07-05", "series": "year", "value": 57.4},
      {"date": "2018-07-09", "series": "year", "value": 57.4},
      {"date": "2018-07-13", "series": "year", "value": 59.7},
      {"date": "2018-07-16", "series": "year", "value": 59.5},
      {"date": "2018-07-20", "series": "year", "value": 58.9},
      {"date": "2018-07-25", "series": "year", "value": 58.9},
      {"date": "2018-07-30", "series": "year", "value": 59.5},
      {"date": "2018-08-02", "series": "year", "value": 58.4},
      {"date": "2018-08-08", "series": "year", "value": 57.4},
      {"date": "2018-08-13", "series": "year", "value": 58.1},
      {"date": "2018-08-17", "series": "year", "value": 60.5},
      {"date": "2018-08-23", "series": "year", "value": 62.6},
      {"date": "2018-08-28", "series": "year", "value": 62.6},
      {"date": "2018-09-01", "series": "year", "value": 61.5},
      {"date": "2018-09-05", "series": "year", "value": 59.5},
      {"date": "2018-09-10", "series": "year", "value": 58.1},
      {"date": "2018-09-15", "series": "year", "value": 58.7},
      {"date": "2018-09-21", "series": "year", "value": 58.4},
      {"date": "2018-09-26", "series": "year", "value": 57.4},
      {"date": "2018-10-08", "series": "year", "value": 57.1},
      {"date": "2018-10-13", "series": "year", "value": 57.0},
      {"date": "2018-10-23", "series": "year", "value": 57.6},
      {"date": "2018-10-30", "series": "year", "value": 57.9},
      {"date": "2018-11-05", "series": "year", "value": 59.1},
      {"date": "2018-11-11", "series": "year", "value": 58.9},
      {"date": "2018-11-21", "series": "year", "value": 59.1},
      {"date": "2018-11-26", "series": "year", "value": 58.5},
      {"date": "2018-12-05", "series": "year", "value": 58.5},
      {"date": "2018-12-12", "series": "year", "value": 57.9},
      {"date": "2018-12-18", "series": "year", "value": 58.4},
      {"date": "2018-12-25", "series": "year", "value": 58.5},
      {"date": "2019-01-03", "series": "year", "value": 58.1},
      {"date": "2019-01-09", "series": "year", "value": 58.5},
      {"date": "2019-01-16", "series": "year", "value": 58.1},
      {"date": "2019-01-24", "series": "year", "value": 58.3},
      {"date": "2019-01-31", "series": "year", "value": 57.9},
      {"date": "2019-02-04", "series": "year", "value": 57.0},
      {"date": "2019-02-09", "series": "year", "value": 58.5},
      {"date": "2019-02-13", "series": "year", "value": 58.9},
      {"date": "2019-02-18", "series": "year", "value": 57.6},
      {"date": "2019-02-25", "series": "year", "value": 57.1},
      {"date": "2019-03-02", "series": "year", "value": 59.3},
      {"date": "2019-03-08", "series": "year", "value": 59.5},
      {"date": "2019-03-13", "series": "year", "value": 60.1},
      {"date": "2019-03-20", "series": "year", "value": 60.4},
      {"date": "2019-03-26", "series": "year", "value": 60.1},
      {"date": "2019-03-30", "series": "year", "value": 58.7},
      {"date": "2019-04-02", "series": "year", "value": 57.6},
      {"date": "2019-04-08", "series": "year", "value": 57.9},
      {"date": "2019-04-15", "series": "year", "value": 58.1},
      {"date": "2019-04-21", "series": "year", "value": 58.9},
      {"date": "2019-04-28", "series": "year", "value": 59.3},
      {"date": "2019-05-03", "series": "year", "value": 58.4},
      {"date": "2019-05-08", "series": "year", "value": 58.5},
      {"date": "2019-05-13", "series": "year", "value": 60.1},
      {"date": "2019-05-18", "series": "year", "value": 62.6},
      {"date": "2019-05-22", "series": "year", "value": 61.8},
      {"date": "2019-05-30", "series": "year", "value": 62.8},
      {"date": "2019-06-06", "series": "year", "value": 63.6},
      {"date": "2019-06-13", "series": "year", "value": 64.0},
      {"date": "2019-06-21", "series": "year", "value": 64.1},
      {"date": "2019-06-27", "series": "year", "value": 63.2},
      {"date": "2019-06-30", "series": "year", "value": 64.1},
      {"date": "2019-07-05", "series": "year", "value": 64.9},
      {"date": "2019-07-13", "series": "year", "value": 65.5},
      {"date": "2019-07-22", "series": "year", "value": 66.1},
      {"date": "2019-07-27", "series": "year", "value": 64.7},
      {"date": "2019-08-01", "series": "year", "value": 64.7},
      {"date": "2019-08-06", "series": "year", "value": 65.9},
      {"date": "2019-08-09", "series": "year", "value": 67.9},
      {"date": "2019-08-13", "series": "year", "value": 69.8},
      {"date": "2019-08-17", "series": "year", "value": 70.4},
      {"date": "2019-08-20", "series": "year", "value": 69.8},
      {"date": "2019-08-25", "series": "year", "value": 68.8},
      {"date": "2019-08-30", "series": "year", "value": 68.2},
      {"date": "2019-09-05", "series": "year", "value": 68.2},
      {"date": "2019-09-10", "series": "year", "value": 67.5},
      {"date": "2019-09-16", "series": "year", "value": 66.7},
      {"date": "2019-09-26", "series": "year", "value": 66.5},
      {"date": "2019-10-04", "series": "year", "value": 65.9},
      {"date": "2019-10-10", "series": "year", "value": 66.3},
      {"date": "2019-10-14", "series": "year", "value": 65.9},
      {"date": "2019-10-19", "series": "year", "value": 64.9},
      {"date": "2019-10-25", "series": "year", "value": 64.7},
      {"date": "2019-11-04", "series": "year", "value": 64.6},
      {"date": "2019-11-09", "series": "year", "value": 64.0},
      {"date": "2019-11-14", "series": "year", "value": 64.9},
      {"date": "2019-11-20", "series": "year", "value": 64.4},
      {"date": "2019-11-27", "series": "year", "value": 63.8},
      {"date": "2019-12-03", "series": "year", "value": 64.2},
      {"date": "2019-12-13", "series": "year", "value": 64.1},
      {"date": "2019-12-19", "series": "year", "value": 64.9},
      {"date": "2019-12-25", "series": "year", "value": 64.5},
      {"date": "2020-01-01", "series": "year", "value": 64.2},
      {"date": "2020-01-05", "series": "year", "value": 64.2},
      {"date": "2020-01-13", "series": "year", "value": 64.1},
      {"date": "2020-01-20", "series": "year", "value": 63.8},
      {"date": "2020-01-28", "series": "year", "value": 64.0},
      {"date": "2020-02-04", "series": "year", "value": 63.8},
      {"date": "2020-02-11", "series": "year", "value": 64.1},
      {"date": "2020-02-17", "series": "year", "value": 64.2},
      {"date": "2020-02-21", "series": "year", "value": 63.4},
      {"date": "2020-02-27", "series": "year", "value": 63.7},
      {"date": "2020-03-02", "series": "year", "value": 63.3},
      {"date": "2020-03-05", "series": "year", "value": 62.4},
      {"date": "2020-03-11", "series": "year", "value": 62.4},
      {"date": "2020-03-17", "series": "year", "value": 62.6},
      {"date": "2020-03-19", "series": "year", "value": 59.3},
      {"date": "2020-03-22", "series": "year", "value": 57.7},
      {"date": "2020-03-27", "series": "year", "value": 57.0},
      {"date": "2020-04-01", "series": "year", "value": 57.0},
      {"date": "2020-04-05", "series": "year", "value": 57.6},
      {"date": "2020-04-10", "series": "year", "value": 57.0},
      {"date": "2020-04-16", "series": "year", "value": 58.1},
      {"date": "2020-04-20", "series": "year", "value": 57.7},
      {"date": "2020-04-24", "series": "year", "value": 55.8},
      {"date": "2020-04-29", "series": "year", "value": 54.6},
      {"date": "2020-05-03", "series": "year", "value": 52.7},
      {"date": "2020-05-08", "series": "year", "value": 50.7},
      {"date": "2020-05-12", "series": "year", "value": 49.6},
      {"date": "2020-05-16", "series": "year", "value": 48.4},
      {"date": "2020-05-20", "series": "year", "value": 47.6},
      {"date": "2020-05-23", "series": "year", "value": 45.3},
      {"date": "2020-05-26", "series": "year", "value": 44.5},
      {"date": "2020-06-02", "series": "year", "value": 44.9},
      {"date": "2020-06-04", "series": "year", "value": 44.5},
      {"date": "2020-06-06", "series": "year", "value": 42.2},
      {"date": "2020-06-11", "series": "year", "value": 41.8},
      {"date": "2020-06-16", "series": "year", "value": 39.5},
      {"date": "2020-06-21", "series": "year", "value": 37.9},
      {"date": "2020-06-25", "series": "year", "value": 37.5},
      {"date": "2020-06-30", "series": "year", "value": 39.1},
      {"date": "2020-07-05", "series": "year", "value": 39.8},
      {"date": "2020-07-08", "series": "year", "value": 39.1},
      {"date": "2020-07-12", "series": "year", "value": 36.7},
      {"date": "2020-07-14", "series": "year", "value": 32.1},
      {"date": "2020-07-17", "series": "year", "value": 29.7},
      {"date": "2020-07-20", "series": "year", "value": 29.6},
      {"date": "2020-07-28", "series": "year", "value": 30.9},
      {"date": "2020-08-02", "series": "year", "value": 30.1},
      {"date": "2020-08-06", "series": "year", "value": 30.9},
      {"date": "2020-08-12", "series": "year", "value": 31.3},
      {"date": "2020-08-17", "series": "year", "value": 32.1},
      {"date": "2020-08-22", "series": "year", "value": 31.1},
      {"date": "2020-08-30", "series": "year", "value": 31.4},
      {"date": "2020-09-07", "series": "year", "value": 31.3},
      {"date": "2020-09-12", "series": "year", "value": 30.7},
      {"date": "2020-09-16", "series": "year", "value": 30.1},
      {"date": "2020-09-18", "series": "year", "value": 31.7},
      {"date": "2020-09-23", "series": "year", "value": 33.1},
      {"date": "2020-09-28", "series": "year", "value": 33.2},
      {"date": "2020-09-30", "series": "year", "value": 34.6},
      {"date": "2020-10-04", "series": "year", "value": 35.2},
      {"date": "2020-10-09", "series": "year", "value": 36.1},
      {"date": "2020-10-13", "series": "year", "value": 36.0},
      {"date": "2020-10-18", "series": "year", "value": 36.7},
      {"date": "2020-10-22", "series": "year", "value": 35.8},
      {"date": "2020-10-27", "series": "year", "value": 35.0}
    ],
    "last": [
      {"date": "2020-10-27", "series": "month", "value": 32.8},
      {"date": "2020-10-27", "series": "year", "value": 35.0}
    ]
  },
  "encoding": {
    "x": {
      "field": "date",
      "type": "temporal",
      "scale": {
        "type": "utc",
        "domain": [
          {"year": 2017, "month": 1, "date": 5, "utc": true},
          {"year": 2020, "month": 11, "date": 10, "utc": true}
        ]
      },
      "axis": {
        "tickCount": {"interval": "year", "step": 1},
        "format": "%Y",
        "labelFontSize": 80,
        "labelPadding": 25,
        "labelLimit": 1000,
        "tickSize": 31,
        "title": "* based on 3-day return\u00a0\u00a0\u00a0\u00a0\u00a0\u00a0\u00a0\u00a0\u00a0\u00a0\u00a0\u00a0\u00a0\u00a0\u00a0\u00a0\u00a0\u00a0\u00a0\u00a0\u00a0\u00a0\u00a0\u00a0\u00a0\u00a0\u00a0\u00a0\u00a0\u00a0\u00a0\u00a0\u00a0\u00a0\u00a0Oct 27, 20\u00a0 VisualizedAnalytics.com",
        "titleFontSize": 67,
        "titleAnchor": "start",
        "titleAlign": "left",
        "titleBaseline": "alphabetic",
        "titleX": 0,
        "titleY": 234,
        "titleLimit": 10000,
        "gridWidth": 4
      }
    }
  },
  "layer": [
    {
      "data": {"name": "corr"},
      "mark": {"type": "line", "opacity": 0.6, "strokeWidth": 13, "strokeJoin": "round", "strokeCap": "round"},
      "encoding": {
        "y": {
          "field": "value",
          "type": "quantitative",
          "scale": {"domain": [-26, 94.7], "nice": false, "zero": false},
          "axis": {
            "values": [-20, 0, 20, 40, 60, 80],
            "labelExpr": "datum.value + '%'",
            "title": null,
            "labelFontSize": 80,
            "labelPadding": 16,
            "labelLimit": 1000,
            "tickSize": 25,
            "gridWidth": {"condition": {"test": "datum.value === 0", "value": 10}, "value": 3.5}
          }
        },
        "color": {
          "field": "series",
          "type": "nominal",
          "scale": {"domain": ["month", "year"], "range": ["#6495ED", "#000000"]},
          "legend": {
            "title": null,
            "orient": "none",
            "legendX": 1406,
            "legendY": -182,
            "direction": "horizontal",
            "symbolType": "stroke",
            "symbolStrokeWidth": 16,
            "symbolSize": 6400,
            "symbolOpacity": 0.85,
            "labelFontSize": 86,
            "labelOffset": 36,
            "labelLimit": 1000,
            "columnPadding": 85,
            "padding": 0
          }
        }
      }
    },
    {
      "data": {"name": "last"},
      "mark": {"type": "circle", "size": 1134, "opacity": 1},
      "encoding": {
        "y": {
          "field": "value",
          "type": "quantitative",
          "scale": {"domain": [-26, 94.7], "nice": false, "zero": false},
          "axis": {
            "orient": "right",
            "values": [35, 32.8],
            "labelExpr": "round(datum.value) + '%'",
            "title": null,
            "grid": false,
            "labelFontSize": 87,
            "labelPadding": 16,
            "labelLimit": 1000,
            "labelOverlap": false,
            "tickSize": 25,
            "labelColor": {"condition": {"test": "datum.value > 34", "value": "black"}, "value": "#6495ED"}
          }
        },
        "color": {
          "field": "series",
          "type": "nominal",
          "scale": {"domain": ["month", "year"], "range": ["#6495ED", "#000000"]},
          "legend": null
        }
      }
    }
  ],
  "resolve": {"axis": {"y": "independent"}},
  "config": {
    "font": "Liberation Mono",
    "view": {"fill": "#EBEBEB", "stroke": "white", "strokeWidth": 4},
    "axis": {
      "domain": false,
      "labelFont": "Liberation Mono",
      "labelColor": "black",
      "titleFont": "Liberation Mono",
      "titleColor": "black",
      "titleFontWeight": "normal",
      "tickColor": "white",
      "tickWidth": 4,
      "gridColor": "white",
      "gridWidth": 3.5
    },
    "legend": {
      "labelFont": "Liberation Mono",
      "labelColor": "black"
    }
  }
}
